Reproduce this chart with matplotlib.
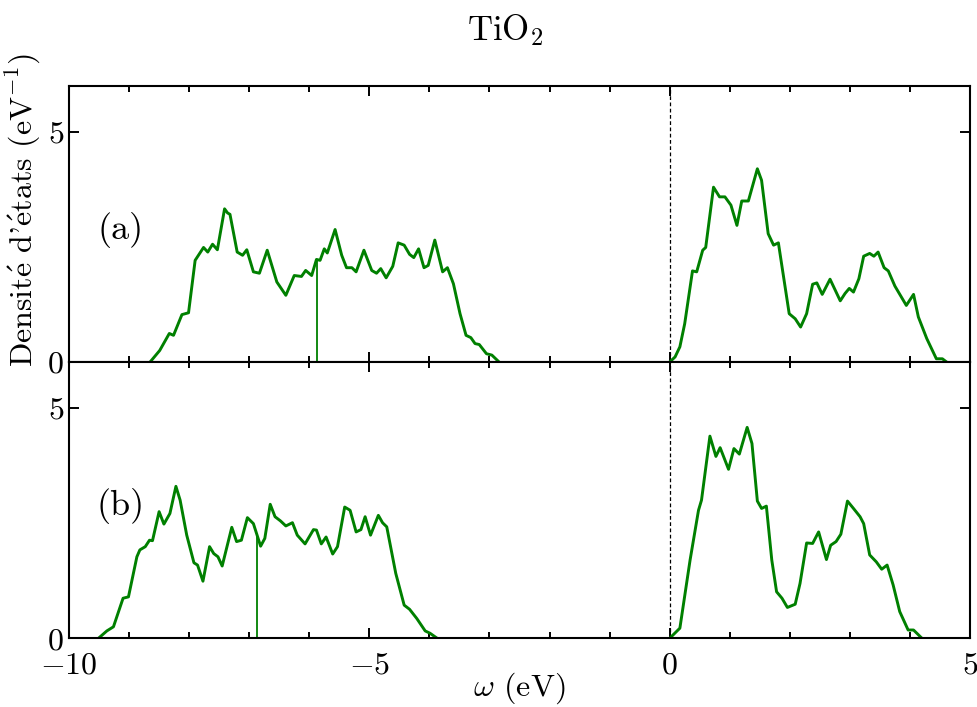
import numpy as np
import matplotlib
matplotlib.use("Agg")
import matplotlib.pyplot as plt
from matplotlib.ticker import MultipleLocator

plt.rcParams['font.family'] = ['cmr10', 'DejaVu Serif']
plt.rcParams['mathtext.fontset'] = 'cm'
plt.rcParams['axes.formatter.use_mathtext'] = True
plt.rcParams['axes.unicode_minus'] = True

# ---- data: panel (a) ----
va_x = [-8.65, -8.49, -8.33, -8.26, -8.12, -8.01, -7.90, -7.76, -7.69, -7.61, -7.53, -7.41, -7.36, -7.32,
        -7.20, -7.11, -7.04, -6.93, -6.83, -6.70, -6.54, -6.39, -6.25, -6.13, -6.06, -5.96, -5.88, -5.82,
        -5.75, -5.70, -5.57, -5.46, -5.38, -5.29, -5.22, -5.09, -4.96, -4.88, -4.81, -4.72, -4.61, -4.52,
        -4.42, -4.33, -4.26, -4.18, -4.09, -4.02, -3.91, -3.78, -3.70, -3.60, -3.49, -3.39, -3.31, -3.24,
        -3.17, -3.05, -2.96, -2.84]
va_y = [0, 0.25, 0.62, 0.58, 1.03, 1.07, 2.21, 2.49, 2.39, 2.56, 2.44, 3.33, 3.24, 3.21,
        2.39, 2.32, 2.44, 1.96, 1.93, 2.43, 1.74, 1.45, 1.88, 1.86, 1.99, 1.88, 2.23, 2.21,
        2.46, 2.37, 2.88, 2.32, 2.05, 2.05, 1.96, 2.43, 1.99, 1.93, 2.03, 1.83, 2.08, 2.59,
        2.54, 2.34, 2.27, 2.46, 2.05, 2.10, 2.65, 1.96, 2.05, 1.70, 1.05, 0.58, 0.53, 0.40,
        0.38, 0.18, 0.15, 0]
ca_x = [0.0, 0.09, 0.17, 0.25, 0.38, 0.45, 0.55, 0.60, 0.73, 0.83, 0.92, 1.02, 1.12, 1.20, 1.31, 1.46,
        1.53, 1.64, 1.73, 1.81, 1.88, 1.99, 2.09, 2.18, 2.28, 2.38, 2.45, 2.54, 2.67, 2.84, 2.92,
        2.99, 3.06, 3.15, 3.23, 3.33, 3.40, 3.47, 3.57, 3.64, 3.75, 3.94, 4.06, 4.14, 4.28, 4.44,
        4.54, 4.61]
ca_y = [0, 0.11, 0.33, 0.83, 1.98, 1.96, 2.43, 2.49, 3.80, 3.59, 3.59, 3.41, 2.97, 3.50, 3.50, 4.20,
        3.95, 2.79, 2.54, 2.59, 1.99, 1.05, 0.94, 0.76, 1.05, 1.69, 1.72, 1.47, 1.80, 1.33, 1.49,
        1.60, 1.52, 1.81, 2.30, 2.36, 2.30, 2.39, 2.05, 1.98, 1.65, 1.23, 1.47, 0.98, 0.51, 0.07,
        0.07, 0]
spike_a = -5.87

# ---- data: panel (b) ----
vb_x = [-9.51, -9.37, -9.26, -9.10, -9.01, -8.87, -8.82, -8.73, -8.66, -8.61, -8.50, -8.42, -8.32,
        -8.22, -8.15, -8.04, -7.92, -7.86, -7.77, -7.66, -7.59, -7.52, -7.45, -7.29, -7.21, -7.13,
        -7.03, -6.93, -6.81, -6.74, -6.65, -6.57, -6.48, -6.39, -6.28, -6.20, -6.07, -5.93, -5.88,
        -5.80, -5.72, -5.61, -5.53, -5.41, -5.32, -5.22, -5.14, -5.07, -4.98, -4.85, -4.78, -4.71,
        -4.56, -4.42, -4.33, -4.21, -4.07, -3.99, -3.87]
vb_y = [0, 0.16, 0.25, 0.87, 0.90, 1.77, 1.92, 1.99, 2.13, 2.12, 2.75, 2.48, 2.71,
        3.30, 3.00, 2.24, 1.64, 1.59, 1.24, 1.99, 1.84, 1.77, 1.57, 2.41, 2.10, 2.13,
        2.62, 2.49, 2.00, 2.17, 2.91, 2.64, 2.55, 2.44, 2.51, 2.24, 2.05, 2.36, 2.35,
        2.05, 2.20, 1.83, 1.99, 2.85, 2.78, 2.31, 2.36, 2.64, 2.24, 2.67, 2.51, 2.42,
        1.41, 0.72, 0.63, 0.43, 0.16, 0.11, 0]
cb_x = [0.0, 0.17, 0.34, 0.48, 0.53, 0.67, 0.77, 0.84, 0.98, 1.07, 1.16, 1.29, 1.37, 1.46, 1.53,
        1.61, 1.70, 1.78, 1.87, 1.96, 2.09, 2.17, 2.28, 2.38, 2.48, 2.61, 2.68, 2.77, 2.85, 2.96,
        3.06, 3.17, 3.23, 3.33, 3.44, 3.53, 3.62, 3.72, 3.83, 3.97, 4.06, 4.20]
cb_y = [0, 0.22, 1.70, 2.78, 3.00, 4.39, 3.95, 4.14, 3.67, 4.12, 4.00, 4.58, 4.23, 2.98, 2.82,
        2.87, 1.70, 1.01, 0.87, 0.67, 0.74, 1.19, 2.07, 2.06, 2.31, 1.71, 2.02, 2.10, 2.26, 2.98,
        2.82, 2.64, 2.49, 1.81, 1.66, 1.50, 1.59, 1.16, 0.58, 0.18, 0.18, 0]
spike_b = -6.875

panel_labels = ['(a)', '(b)']
title = r'TiO$_2$'
xlabel = r'$\omega$ (eV)'
ylabel = r"Densit$\mathrm{\acute{e}}$ d'$\mathrm{\acute{e}}$tats (eV$^{-1}$)"

fig = plt.figure(figsize=(9.78, 7.07), dpi=100)
left, right = 69 / 978, 970 / 978
ax1 = fig.add_axes([left, 1 - 362 / 707, right - left, (362 - 86) / 707])
ax2 = fig.add_axes([left, 1 - 638.3 / 707, right - left, (638.3 - 362) / 707], sharex=ax1)

green = '#008000'
data = [(ax1, va_x, va_y, ca_x, ca_y, spike_a), (ax2, vb_x, vb_y, cb_x, cb_y, spike_b)]
for i, (ax, vx, vy, cx, cy, sp) in enumerate(data):
    ax.plot(vx, vy, color=green, lw=2.1, solid_joinstyle='round')
    ax.plot(cx, cy, color=green, lw=2.1, solid_joinstyle='round')
    ax.vlines(sp, 0, np.interp(sp, vx, vy), color=green, lw=1.3)
    ax.axvline(0, color='black', lw=0.9, ls=(0, (3, 2)), zorder=1)
    ax.set_xlim(-10, 5)
    ax.set_ylim(0, 6)
    ax.xaxis.set_major_locator(MultipleLocator(5))
    ax.xaxis.set_minor_locator(MultipleLocator(1))
    ax.yaxis.set_major_locator(MultipleLocator(5))
    ax.tick_params(which='both', direction='in', top=True, right=True, width=1.4, labelsize=23)
    ax.tick_params(which='major', length=7)
    ax.tick_params(which='minor', length=4.5)
    ax.tick_params(axis='x', pad=10)
    for s in ax.spines.values():
        s.set_linewidth(1.5)
    ax.text(0.057, 0.48, panel_labels[i], transform=ax.transAxes, ha='center', va='center',
            fontsize=26)

ax1.tick_params(axis='x', labelbottom=False)
ax2.set_xlabel(xlabel, fontsize=23)
ax2.xaxis.set_label_coords(0.5, -0.118)
ax2.xaxis.label.set_va('top')
ax1.set_ylabel(ylabel, fontsize=23)
ax1.yaxis.set_label_coords(-0.029, 0.55)
ax1.yaxis.label.set_va('bottom')

fig.text(505 / 978, 1 - 40 / 707, title, ha='center', va='baseline', fontsize=25)

fig.savefig('out.png', dpi=100)
